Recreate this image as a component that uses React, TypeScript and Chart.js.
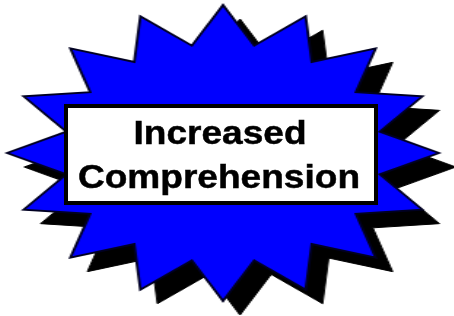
import React, { useEffect, useRef } from "react";
import { Chart, registerables } from "chart.js";

// 32 spokes of the starburst: 16 spike tips alternating with 16 notches
const spokeLabels = [
  "1", "2", "3", "4", "5", "6", "7", "8",
  "9", "10", "11", "12", "13", "14", "15", "16",
  "17", "18", "19", "20", "21", "22", "23", "24",
  "25", "26", "27", "28", "29", "30", "31", "32",
];
const starValues = [
  100, 74, 100, 74, 100, 74, 100, 74,
  100, 74, 100, 74, 100, 74, 100, 74,
  100, 74, 100, 74, 100, 74, 100, 74,
  100, 74, 100, 74, 100, 74, 100, 74,
];
const shadowValues = starValues;
const titleLines = ["Increased", "Comprehension"];

const CANVAS = 340;
const PAD = 22;
const STRETCH = 216 / 148;
const CX = 223;
const CY = 152.5;

// shifts the shadow dataset (index 1) before the Filler plugin draws it
const shadowShift = {
  id: "shadowShift",
  beforeDatasetDraw(chart: any, args: any, opts: any) {
    if (args.index === 1) {
      chart.ctx.save();
      chart.ctx.translate(opts.dx || 0, opts.dy || 0);
    }
  },
  afterDatasetDraw(chart: any, args: any) {
    if (args.index === 1) chart.ctx.restore();
  },
};

Chart.register(shadowShift);
Chart.register(...registerables);

export default function App() {
  const ref = useRef<HTMLCanvasElement | null>(null);

  useEffect(() => {
    if (!ref.current) return;
    const chart = new Chart(ref.current, {
      type: "radar",
      data: {
        labels: spokeLabels,
        datasets: [
          {
            data: starValues,
            backgroundColor: "#0000ff",
            borderColor: "#000022",
            borderWidth: 1.8,
            fill: true,
            pointRadius: 0,
            tension: 0,
            clip: false as any,
          },
          {
            data: shadowValues,
            backgroundColor: "#000000",
            borderColor: "#000000",
            borderWidth: 1,
            fill: true,
            pointRadius: 0,
            tension: 0,
            clip: false as any,
          },
        ],
      },
      options: {
        responsive: false,
        animation: false,
        devicePixelRatio: 1,
        layout: { padding: PAD },
        events: [],
        plugins: {
          legend: { display: false },
          tooltip: { enabled: false },
          title: { display: false },
          shadowShift: { dx: 17 / STRETCH, dy: 14 },
        } as any,
        scales: {
          r: {
            min: 0,
            max: 100,
            startAngle: 0,
            ticks: { display: false },
            grid: { display: false },
            angleLines: { display: false },
            pointLabels: { display: false },
          },
        },
      },
    });
    return () => chart.destroy();
  }, []);

  const lineStyle = (top: number, center: number): React.CSSProperties => ({
    position: "absolute",
    left: center - 200,
    top,
    width: 400,
    height: 42,
    lineHeight: "42px",
    textAlign: "center",
    fontFamily: '"Liberation Sans", Arial, sans-serif',
    fontWeight: 700,
    fontSize: 34,
    color: "#000",
    WebkitTextStroke: "0.5px #000",
    transform: "scaleX(1.09)",
    transformOrigin: "center",
    whiteSpace: "nowrap",
  });

  return (
    <div
      style={{
        position: "fixed",
        left: 0,
        top: 0,
        width: 454,
        height: 316,
        overflow: "hidden",
        background: "#fff",
      }}
    >
      <canvas
        ref={ref}
        width={CANVAS}
        height={CANVAS}
        style={{
          position: "absolute",
          left: CX - (CANVAS / 2) * STRETCH,
          top: CY - CANVAS / 2,
          width: CANVAS * STRETCH,
          height: CANVAS,
        }}
      />
      <div
        style={{
          position: "absolute",
          left: 64,
          top: 104,
          width: 314,
          height: 101,
          boxSizing: "border-box",
          border: "4px solid #000",
          background: "#fff",
        }}
      />
      <div style={lineStyle(110.9, 220)}>{titleLines[0]}</div>
      <div style={lineStyle(154.5, 219)}>{titleLines[1]}</div>
    </div>
  );
}
